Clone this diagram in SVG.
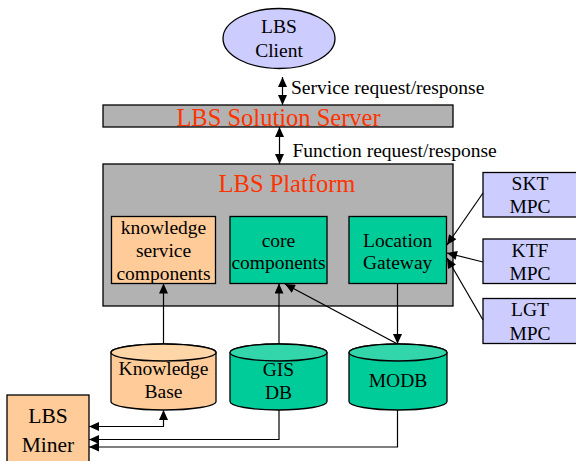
<svg xmlns="http://www.w3.org/2000/svg" width="576" height="461" viewBox="0 0 576 461">
<style>
.t{font-family:"Liberation Serif","Times New Roman",serif;font-size:19.5px;fill:#000;text-anchor:middle}
.l{text-anchor:start}
.r{fill:#FF3300;font-size:24.5px}
.m{font-size:21.5px}
.s{stroke:#000;stroke-width:1.3}
.c{fill:none;stroke:#000;stroke-width:1.2}
.gray{fill:#B2B2B2}
.blue{fill:#CCCCFF}
.or{fill:#FFCC99}
.gr{fill:#00CC99}
</style>
<defs>
<marker id="a" markerUnits="userSpaceOnUse" markerWidth="11" markerHeight="9" refX="10" refY="4.5" orient="auto-start-reverse" viewBox="0 0 10 9"><path d="M0,0L10,4.5L0,9z" fill="#000"/></marker>
</defs>
<g id="client"><ellipse class="s blue" cx="279" cy="38.5" rx="56" ry="30"/><text class="t" x="279" y="33">LBS</text><text class="t" x="279" y="57">Client</text></g>
<g id="server"><rect class="s gray" x="103" y="105" width="350" height="22"/><text class="t r" x="278.5" y="126">LBS Solution Server</text></g>
<g id="platform"><rect class="s gray" x="103" y="164" width="350" height="142"/><text class="t r" x="287" y="192">LBS Platform</text></g>
<g id="ksc"><rect class="s or" x="111.5" y="216.5" width="104" height="67"/><text class="t" x="163.5" y="234">knowledge</text><text class="t" x="163.5" y="257">service</text><text class="t" x="163.5" y="280">components</text></g>
<g id="core"><rect class="s gr" x="230" y="216.5" width="97" height="67"/><text class="t" x="278.5" y="247">core</text><text class="t" x="278.5" y="269">components</text></g>
<g id="lg"><rect class="s gr" x="349" y="216.5" width="97.5" height="67"/><text class="t" x="397.7" y="247">Location</text><text class="t" x="397.7" y="269">Gateway</text></g>
<g id="skt"><rect class="s blue" x="483" y="172.5" width="100" height="44.5"/><text class="t" x="530" y="190">SKT</text><text class="t" x="530" y="213">MPC</text></g>
<g id="ktf"><rect class="s blue" x="483" y="239" width="100" height="44.5"/><text class="t" x="530" y="256.5">KTF</text><text class="t" x="530" y="280">MPC</text></g>
<g id="lgt"><rect class="s blue" x="483" y="298.5" width="100" height="45"/><text class="t" x="530" y="315.5">LGT</text><text class="t" x="530" y="340">MPC</text></g>
<g id="kb"><path class="s or" d="M111,352.5V401.5A52.5,8.5 0 0 0 216,401.5V352.5A52.5,8.5 0 0 0 111,352.5z"/><ellipse class="s" fill="#FFD6A8" cx="163.5" cy="352.5" rx="52.5" ry="8.5"/><text class="t" x="163.5" y="375">Knowledge</text><text class="t" x="163.5" y="398">Base</text></g>
<g id="gis"><path class="s gr" d="M230,352.5V401.5A48.5,8.5 0 0 0 327,401.5V352.5A48.5,8.5 0 0 0 230,352.5z"/><ellipse class="s" fill="#33D6AA" cx="278.5" cy="352.5" rx="48.5" ry="8.5"/><text class="t" x="278.5" y="376">GIS</text><text class="t" x="278.5" y="399">DB</text></g>
<g id="modb"><path class="s gr" d="M349,352.5V401.5A49,8.5 0 0 0 447,401.5V352.5A49,8.5 0 0 0 349,352.5z"/><ellipse class="s" fill="#33D6AA" cx="398" cy="352.5" rx="49" ry="8.5"/><text class="t" x="398" y="387">MODB</text></g>
<g id="miner"><rect class="s or" x="7" y="395" width="82" height="80"/><text class="t m" x="48" y="423">LBS</text><text class="t m" x="48" y="451.5">Miner</text></g>
<g id="connectors">
<line class="c" x1="282.5" y1="77" x2="282.5" y2="105" marker-start="url(#a)" marker-end="url(#a)"/>
<text class="t l" x="291" y="94">Service request/response</text>
<line class="c" x1="279.5" y1="127" x2="279.5" y2="164" marker-start="url(#a)" marker-end="url(#a)"/>
<text class="t l" x="292.5" y="157">Function request/response</text>
<line class="c" x1="163.5" y1="344" x2="163.5" y2="283.5" marker-end="url(#a)"/>
<line class="c" x1="279" y1="344" x2="279" y2="283.5" marker-end="url(#a)"/>
<line class="c" x1="397.5" y1="344" x2="285" y2="284" marker-end="url(#a)"/>
<line class="c" x1="397.5" y1="283.5" x2="397.5" y2="344" marker-end="url(#a)"/>
<line class="c" x1="483" y1="193" x2="447" y2="245" marker-end="url(#a)"/>
<line class="c" x1="483" y1="262" x2="447" y2="253" marker-end="url(#a)"/>
<line class="c" x1="483" y1="320" x2="447" y2="258" marker-end="url(#a)"/>
<path class="c" d="M163.5,410V426.5H89" marker-start="url(#a)" marker-end="url(#a)"/>
<path class="c" d="M279,410V439.5H89" marker-end="url(#a)"/>
<path class="c" d="M397.5,410V447H89" marker-end="url(#a)"/>
</g>
</svg>
